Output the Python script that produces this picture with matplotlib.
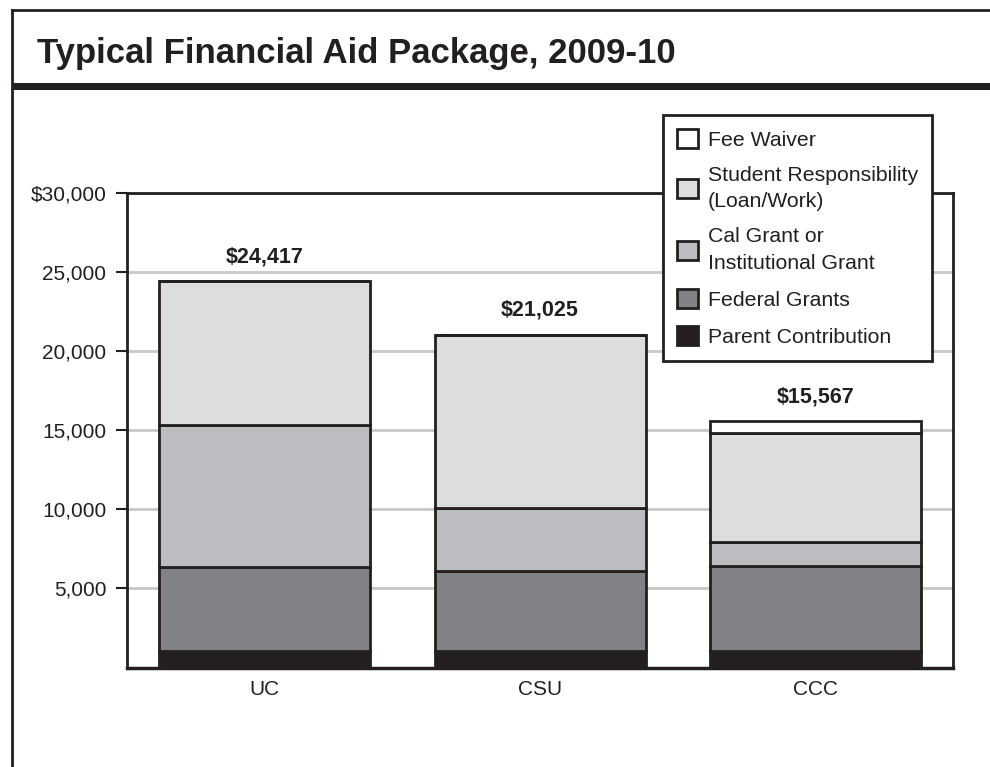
import matplotlib
matplotlib.use("Agg")
import matplotlib.pyplot as plt
from matplotlib.patches import Patch, Rectangle
from matplotlib.lines import Line2D
import numpy as np

categories = ["UC", "CSU", "CCC"]
parent_contribution = [1050, 1030, 1050]
federal_grants = [5300, 5065, 5340]
cal_grant = [8966, 3987, 1566]
student_responsibility = [9101, 10943, 6834]
fee_waiver = [0, 0, 777]
totals_labels = ["$24,417", "$21,025", "$15,567"]

series = [
    ("Parent Contribution", parent_contribution, "#231f20"),
    ("Federal Grants", federal_grants, "#818285"),
    ("Cal Grant or\nInstitutional Grant", cal_grant, "#bcbdc0"),
    ("Student Responsibility\n(Loan/Work)", student_responsibility, "#dcdddf"),
    ("Fee Waiver", fee_waiver, "#ffffff"),
]

plt.rcParams['font.family'] = ['Liberation Sans', 'DejaVu Sans']

fig = plt.figure(figsize=(9.9, 7.67), dpi=100)
fig.patch.set_facecolor("white")

# outer frame and title band
W, H = 990.0, 767.0
fig.add_artist(Line2D([11.5 / W, 11.5 / W], [0, 1 - 10 / H], transform=fig.transFigure,
                      color="#231f20", lw=2.0))
fig.add_artist(Line2D([11.5 / W, 1.0], [1 - 10 / H, 1 - 10 / H], transform=fig.transFigure,
                      color="#231f20", lw=2.0))
fig.add_artist(Rectangle((11.5 / W, 1 - 90 / H), 1 - 11.5 / W, 7 / H, transform=fig.transFigure,
                         facecolor="#231f20", edgecolor="none"))
fig.text(37 / W, 1 - 54 / H, "Typical Financial Aid Package, 2009-10",
         fontweight="bold", fontsize=25, color="#231f20", va="center", ha="left")

ax = fig.add_axes([127.3 / W, 1 - 667.5 / H, (953 - 127.3) / W, (667.5 - 192.7) / H])
x = np.arange(len(categories))
bottom = np.zeros(len(categories))
handles = {}
for name, vals, color in series:
    vals = np.array(vals, dtype=float)
    ax.bar(x, vals, width=0.767, bottom=bottom, color=color, edgecolor="#231f20",
           linewidth=2.0, zorder=3)
    handles[name] = Patch(facecolor=color, edgecolor="#231f20", linewidth=2.0)
    bottom = bottom + vals

for xi, tot, lab in zip(x, bottom, totals_labels):
    ax.annotate(lab, (xi, tot), xytext=(0, 17.5), textcoords="offset points",
                ha="center", va="center", fontsize=15.5, fontweight="bold", color="#231f20")

ax.set_xlim(-0.5, 2.5)
ax.set_ylim(0, 30000)
ax.set_yticks([5000, 10000, 15000, 20000, 25000, 30000])
ax.set_yticklabels(["5,000", "10,000", "15,000", "20,000", "25,000", "$30,000"])
ax.set_xticks(x)
ax.set_xticklabels(categories)
ax.tick_params(axis="y", length=8, width=1.5, color="#231f20", labelsize=15, pad=7,
               labelcolor="#231f20")
ax.tick_params(axis="x", length=0, labelsize=15, pad=9, labelcolor="#231f20")
ax.yaxis.grid(True, color="#c8c8c8", linewidth=2.0, zorder=0)
ax.set_axisbelow(True)
for s in ax.spines.values():
    s.set_color("#231f20")
    s.set_linewidth(2.0)
ax.spines["bottom"].set_linewidth(2.5)

order = ["Fee Waiver", "Student Responsibility\n(Loan/Work)", "Cal Grant or\nInstitutional Grant",
         "Federal Grants", "Parent Contribution"]
leg = fig.legend([handles[n] for n in order], order, loc="upper left",
                 bbox_to_anchor=(663 / W, 1 - 115 / H), borderaxespad=0,
                 fontsize=15.3, frameon=True, fancybox=False, edgecolor="#231f20",
                 framealpha=1.0, handlelength=1.0, handleheight=1.0, handletextpad=0.45,
                 labelspacing=0.76, borderpad=0.65)
leg.get_frame().set_linewidth(2.0)
for t in leg.get_texts():
    t.set_color("#231f20")
    t.set_linespacing(1.5)

fig.savefig("out.png", dpi=100)
